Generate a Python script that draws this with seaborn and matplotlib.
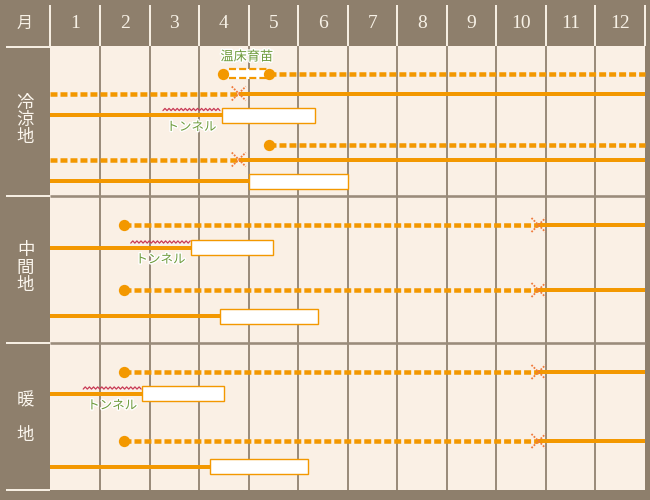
import numpy as np
import pandas as pd
import matplotlib
matplotlib.use('Agg')
import matplotlib.pyplot as plt
import matplotlib.patheffects as pe
from matplotlib.patches import Rectangle
import seaborn as sns

# ---------------- data ----------------
month_labels = ['1', '2', '3', '4', '5', '6', '7', '8', '9', '10', '11', '12']
header_label = '月'
regions = ['冷涼地', '中間地', '暖地']

# row ids: c = 冷涼地, m = 中間地, w = 暖地 (month values: 0 = start of Jan, 12 = end of Dec)
sow_rows = ['c0', 'c0', 'c3', 'm0', 'm2', 'w0', 'w2']
sow_month = [3.48, 4.41, 4.41, 1.48, 1.48, 1.48, 1.48]

nursery_rows = ['c0', 'c1', 'c3', 'c4', 'm0', 'm2', 'w0', 'w2']
nursery_start = [4.41, 0, 4.41, 0, 1.48, 1.48, 1.48, 1.48]
nursery_end = [12, 3.8, 12, 3.8, 9.85, 9.85, 9.85, 9.85]

plant_rows = ['c1', 'c4', 'm0', 'm2', 'w0', 'w2']
plant_month = [3.8, 3.8, 9.85, 9.85, 9.85, 9.85]

grow_rows = ['c1', 'c2', 'c4', 'c5', 'm0', 'm1', 'm2', 'm3', 'w0', 'w1', 'w2', 'w3']
grow_start = [3.8, 0, 3.8, 0, 9.85, 0, 9.85, 0, 9.85, 0, 9.85, 0]
grow_end = [12, 3.46, 12, 4.0, 12, 2.84, 12, 3.42, 12, 1.85, 12, 3.22]

harvest_rows = ['c2', 'c5', 'm1', 'm3', 'w1', 'w3']
harvest_start = [3.46, 4.0, 2.84, 3.42, 1.85, 3.22]
harvest_end = [5.34, 6.0, 4.49, 5.4, 3.5, 5.2]

tunnel_rows = ['c2', 'm1', 'w1']
tunnel_start = [2.27, 1.62, 0.66]
tunnel_end = [3.42, 2.82, 1.83]
tunnel_label = 'トンネル'

hotbed_row = 'c0'
hotbed_start = 3.6
hotbed_end = 4.37
hotbed_label = '温床育苗'

# ---------------- layout / style ----------------
ROW_Y = {'c0': 73.5, 'c1': 93.5, 'c2': 115, 'c3': 144.5, 'c4': 159.5, 'c5': 181,
         'm0': 225, 'm1': 247.5, 'm2': 290, 'm3': 316,
         'w0': 372, 'w1': 393.5, 'w2': 441, 'w3': 466.5}
REGION_CHAR_Y = [[103, 120, 137], [250, 267.5, 285], [400, 435]]
PXM = 49.54            # pixels per month
X0 = 50.5              # pixel x of month 0
PX = 1.0 / PXM         # one pixel in month units
PT = 0.72              # one pixel in points

BROWN = '#8e7f6c'
CREAM = '#faf0e5'
GRID = '#9a8c7b'
LINEW = '#f6eee2'
ORANGE = '#f39800'
XCOL = '#f07a3c'
GREEN = '#6e9b3c'
RED = '#c93a55'

sns.set_theme(style='white')
plt.rcParams['font.family'] = ['Noto Sans CJK JP', 'DejaVu Sans']

fig = plt.figure(figsize=(6.5, 5), dpi=100)
fig.patch.set_facecolor(BROWN)
ax = fig.add_axes([0, 0, 1, 1])
ax.set_facecolor(BROWN)

# cream panel
ax.add_patch(Rectangle((0, 46), 12, 444, facecolor=CREAM, edgecolor='none', zorder=0))
# grid
ax.vlines(np.arange(1, 12), 46, 490, color=GRID, lw=2 * PT, zorder=1)
ax.hlines([196, 343], 0, 12, color=GRID, lw=2.6 * PT, zorder=1)
# header separators
ax.vlines(np.arange(0, 13), 5, 46, color=LINEW, lw=2 * PT, zorder=1)
# left column lines
ax.hlines([47, 196, 343, 490], (6 - X0) * PX, 0, color=LINEW, lw=2 * PT, zorder=1)

# header text
for i, lab in enumerate(month_labels):
    ax.text(i + 0.5, 23, lab, ha='center', va='center', color='#f7f1e6',
            fontsize=14, family=['Liberation Serif'])
ax.text((25 - X0) * PX, 23, header_label, ha='center', va='center',
        color='#f7f1e6', fontsize=11.5)

# region labels (vertical)
for reg, ys in zip(regions, REGION_CHAR_Y):
    for ch, y in zip(reg, ys):
        ax.text((25.5 - X0) * PX, y, ch, ha='center', va='center',
                color='#fbf6ee', fontsize=12.5)

# nursery (dotted) lines
for r, s, e in zip(nursery_rows, nursery_start, nursery_end):
    y = ROW_Y[r]
    ax.plot([s, e], [y, y], color=ORANGE, lw=4.5 * PT,
            linestyle=(0, (1.55, 0.67)), dash_capstyle='butt', zorder=3)

# growing (solid) lines
for r, s, e in zip(grow_rows, grow_start, grow_end):
    y = ROW_Y[r]
    ax.plot([s, e], [y, y], color=ORANGE, lw=4 * PT,
            solid_capstyle='butt', zorder=3)

# harvest boxes
hy = [ROW_Y[r] for r in harvest_rows]
ax.barh(hy, np.array(harvest_end) - np.array(harvest_start), left=harvest_start,
        height=15, color='white', edgecolor=ORANGE, linewidth=1.4 * PT, zorder=4)

# hotbed box
hb_y = ROW_Y[hotbed_row]
ax.barh([hb_y], [hotbed_end - hotbed_start], left=[hotbed_start], height=10,
        color='white', edgecolor='none', zorder=4)
for dy in (-4.5, 4.5):
    ax.plot([hotbed_start, hotbed_end], [hb_y + dy, hb_y + dy], color=ORANGE,
            lw=2.2 * PT, linestyle=(0, (3.2, 1.4)), zorder=5)
ax.text((hotbed_start + hotbed_end) / 2 - 1 * PX, hb_y - 16.5, hotbed_label,
        ha='center', va='center', color=GREEN, fontsize=9.5, zorder=6,
        path_effects=[pe.withStroke(linewidth=2, foreground='white')])

# tunnel zigzags + labels
for r, s, e in zip(tunnel_rows, tunnel_start, tunnel_end):
    y = ROW_Y[r] - 5.5
    n = max(int((e - s) / (2 * PX)), 2)
    zx = np.linspace(s, e, n + 1)
    zy = y + np.where(np.arange(n + 1) % 2 == 0, 1.1, -1.1)
    ax.plot(zx, zy, color=RED, lw=0.9, zorder=3)
    ax.text((s + e) / 2, ROW_Y[r] + 12, tunnel_label, ha='center', va='center',
            color=GREEN, fontsize=9, zorder=6,
            path_effects=[pe.withStroke(linewidth=2, foreground='white')])

# planting X marks
d = 7
for r, m in zip(plant_rows, plant_month):
    y = ROW_Y[r]
    for sgn in (1, -1):
        ax.plot([m - d * PX, m + d * PX], [y - sgn * d, y + sgn * d], color=XCOL,
                lw=1.3, linestyle=(0, (1.0, 0.8)), zorder=5)

# sowing circles
df_sow = pd.DataFrame({'month': sow_month, 'y': [ROW_Y[r] for r in sow_rows]})
sns.scatterplot(data=df_sow, x='month', y='y', s=66, color=ORANGE, linewidth=0,
                ax=ax, zorder=6, legend=False)

ax.set_xlim(-X0 * PX, (650 - X0) * PX)
ax.set_ylim(500, 0)
ax.axis('off')

fig.savefig('out.png', dpi=100, facecolor=BROWN)
